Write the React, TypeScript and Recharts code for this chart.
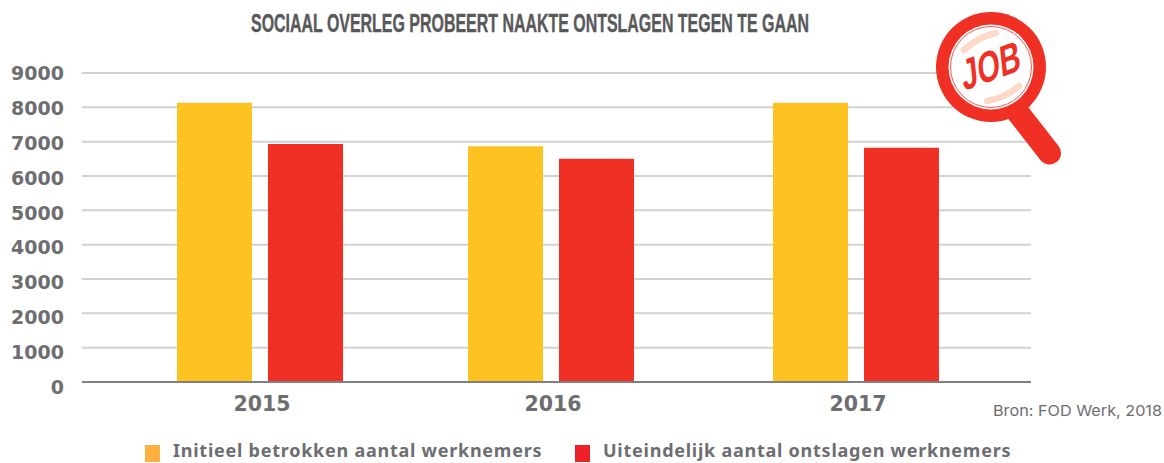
import React from 'react';
import { BarChart, Bar, XAxis, YAxis, CartesianGrid, Legend } from 'recharts';

const years = ['2015', '2016', '2017'];
const initialWorkers = [8130, 6870, 8130];
const dismissedWorkers = [6930, 6500, 6820];
const yTicks = [0, 1000, 2000, 3000, 4000, 5000, 6000, 7000, 8000, 9000];

const seriesNames = ['Initieel betrokken aantal werknemers', 'Uiteindelijk aantal ontslagen werknemers'];
const legendColors = ['#fdb03f', '#ee2028'];

const data = years.map((year, i) => ({
  year,
  initial: initialWorkers[i],
  dismissed: dismissedWorkers[i],
}));

const GREY = '#6d6e71';
const TICK_FONT = '"DejaVu Sans", sans-serif';

// the years are not evenly spaced in the original, so the band axis gets its own scale
const bandCentres: Record<string, number> = { '2015': 260, '2016': 551, '2017': 856 };
const BAND = 182;

const makeYearScale = (): any => {
  let dom: string[] = years;
  let rng: number[] = [82, 1031];
  const scale: any = (v: string) => (v in bandCentres ? bandCentres[v] - BAND / 2 : undefined);
  scale.domain = (d?: string[]) => {
    if (d) {
      dom = d;
      return scale;
    }
    return dom;
  };
  scale.range = (r?: number[]) => {
    if (r) {
      rng = r;
      return scale;
    }
    return rng;
  };
  scale.bandwidth = () => BAND;
  scale.copy = () => makeYearScale();
  return scale;
};

const YTick = ({ x, y, payload }: any) => (
  <text
    x={x - 10}
    y={y + 5 * (1 - payload.value / 9000)}
    dy={7}
    textAnchor="end"
    fontFamily={TICK_FONT}
    fontWeight={700}
    fontSize={19}
    fill={GREY}
  >
    {payload.value}
  </text>
);

const XTick = ({ x, y, payload }: any) => (
  <text x={x + 2} y={y} dy={21} textAnchor="middle" fontFamily={TICK_FONT} fontWeight={700} fontSize={20.5} fill={GREY}>
    {payload.value}
  </text>
);

const LegendRow = () => (
  <div style={{ position: 'relative', height: 20 }}>
    {seriesNames.map((name, i) => (
      <div key={name} style={{ position: 'absolute', left: i === 0 ? 145 : 575, top: 0, height: 20, display: 'flex', alignItems: 'center' }}>
        <span style={{ width: 15, height: 17, background: legendColors[i], display: 'inline-block', marginRight: 13 }} />
        <span
          style={{
            position: 'relative',
            top: -3,
            fontFamily: '"Noto Sans", sans-serif',
            fontWeight: 700,
            fontSize: 18,
            lineHeight: '20px',
            letterSpacing: 0.75,
            color: GREY,
            whiteSpace: 'nowrap',
          }}
        >
          {name}
        </span>
      </div>
    ))}
  </div>
);

const Magnifier = () => (
  <g>
    <line x1={1012} y1={105} x2={1049.5} y2={153} stroke="#f03024" strokeWidth={23} strokeLinecap="round" />
    <circle cx={991} cy={67} r={55} fill="#f03024" />
    <circle cx={991} cy={67} r={42.5} fill="#fff" />
    <circle cx={991} cy={67} r={40.5} fill="none" stroke="#f03024" strokeWidth={0.8} />
    <path d="M964 50 Q978 37 996 33" fill="none" stroke="#fdd9c8" strokeWidth={6.5} strokeLinecap="round" />
    <path d="M987 101 Q1005 98 1019 86" fill="none" stroke="#fdd9c8" strokeWidth={6.5} strokeLinecap="round" />
    <text
      x={0}
      y={15}
      textLength={62}
      lengthAdjust="spacingAndGlyphs"
      textAnchor="middle"
      transform="translate(991 65) rotate(-20) skewX(-14)"
      fontFamily='"Liberation Sans Narrow", "Liberation Sans", sans-serif'
      fontWeight={700}
      fontSize={42}
      fill="#f03024"
    >
      JOB
    </text>
  </g>
);

const App = () => (
  <div style={{ position: 'absolute', left: 0, top: 0, width: 1164, height: 463, background: '#fff', overflow: 'hidden' }}>
    <BarChart width={1164} height={463} data={data} margin={{ top: 73, right: 133, bottom: 0, left: 0 }} barGap={16} barCategoryGap={16}>
      <CartesianGrid horizontal vertical={false} stroke="#d2d2d2" strokeWidth={2} />
      <XAxis
        dataKey="year"
        height={61}
        scale={makeYearScale()}
        tick={<XTick />}
        tickLine={false}
        axisLine={{ stroke: '#808080', strokeWidth: 2 }}
      />
      <YAxis width={82} domain={[0, 9000]} ticks={yTicks} tick={<YTick />} tickLine={false} axisLine={false} interval={0} />
      <Bar dataKey="initial" name={seriesNames[0]} fill="#fec321" barSize={75} isAnimationActive={false} />
      <Bar dataKey="dismissed" name={seriesNames[1]} fill="#f03024" barSize={75} isAnimationActive={false} />
      <Legend content={<LegendRow />} wrapperStyle={{ position: 'absolute', left: 0, top: 443, width: 1164 }} />
    </BarChart>
    <svg width={1164} height={463} style={{ position: 'absolute', left: 0, top: 0, pointerEvents: 'none' }}>
      <text
        x={251}
        y={32}
        textLength={558}
        lengthAdjust="spacingAndGlyphs"
        fontFamily='"Liberation Sans Narrow", "Liberation Sans", sans-serif'
        fontWeight={700}
        fontSize={26}
        fill="#58595b"
        stroke="#58595b"
        strokeWidth={0.4}
      >
        SOCIAAL OVERLEG PROBEERT NAAKTE ONTSLAGEN TEGEN TE GAAN
      </text>
      <Magnifier />
      <text x={993} y={416} textLength={169} lengthAdjust="spacingAndGlyphs" fontFamily="Inter, sans-serif" fontSize={15} fill={GREY}>
        Bron: FOD Werk, 2018
      </text>
    </svg>
  </div>
);

export default App;
